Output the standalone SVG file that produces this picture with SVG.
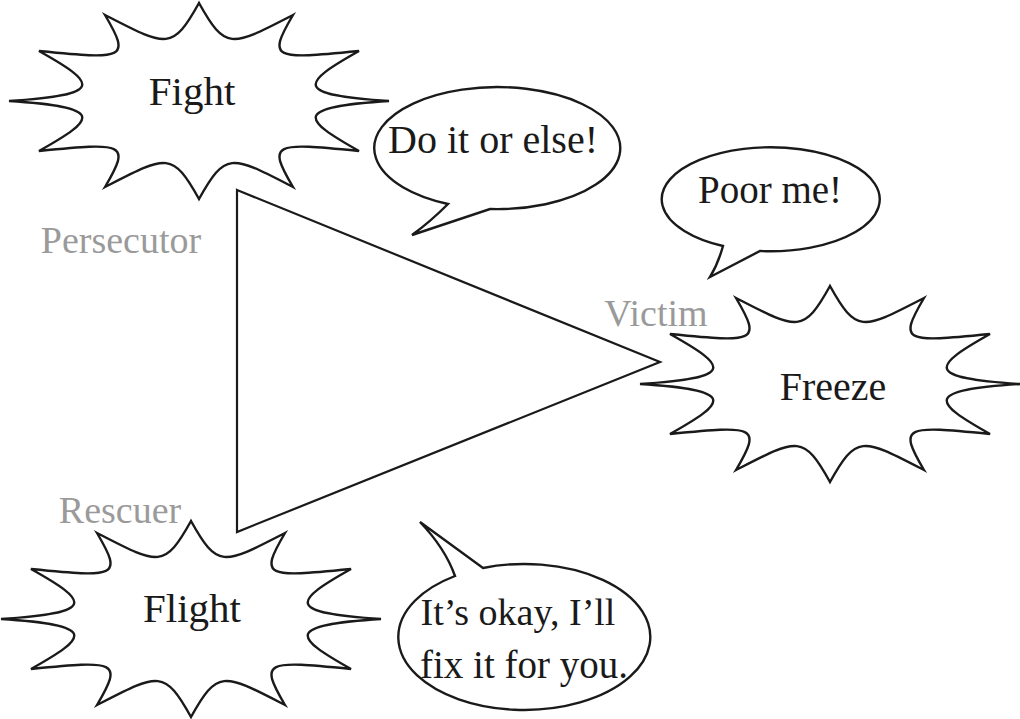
<svg xmlns="http://www.w3.org/2000/svg" width="1020" height="719" viewBox="0 0 1020 719">
<style>
.shape{fill:#fff;stroke:#1a1a1a;stroke-width:2.4;stroke-linejoin:miter}
.tri{fill:none;stroke:#1a1a1a;stroke-width:2.2}
text{font-family:'Liberation Serif','DejaVu Serif',serif}
.t{fill:#1a1a1a;text-anchor:middle}
.lbl{fill:#9a9a9a;text-anchor:middle;font-size:38px}
</style>
<defs>
<path id="burst" d="M0,-98 C26.8,-49.8 32.5,-54.3 94,-86 C67.6,-41.3 74.8,-41.6 160,-50 C102.4,-17.7 92.9,-6 190,0 C92.9,6 102.4,17.7 160,50 C74.8,41.6 67.6,41.3 94,86 C32.5,54.3 26.8,49.8 0,98 C-26.8,49.8 -32.5,54.3 -94,86 C-67.6,41.3 -74.8,41.6 -160,50 C-102.4,17.7 -92.9,6 -190,0 C-92.9,-6 -102.4,-17.7 -160,-50 C-74.8,-41.6 -67.6,-41.3 -94,-86 C-32.5,-54.3 -26.8,-49.8 0,-98 Z"/>
</defs>
<rect width="1020" height="719" fill="#fff"/>
<g id="connectors">
<polygon class="tri" points="237,190 660,362 237,532"/>
</g>
<g id="fight">
<use href="#burst" class="shape" transform="translate(199,101)"/>
<text class="t" x="192" y="105" font-size="41">Fight</text>
</g>
<g id="freeze">
<use href="#burst" class="shape" transform="translate(830,384)"/>
<text class="t" x="833" y="400" font-size="40">Freeze</text>
</g>
<g id="flight">
<use href="#burst" class="shape" transform="translate(191,619)"/>
<text class="t" x="192" y="622" font-size="41">Flight</text>
</g>
<g id="bubble-persecutor">
<path class="shape" d="M448,204 Q430,222 412,235 L490,209 A123,61 0 1 0 448,204 Z"/>
<text class="t" x="493" y="153" font-size="40">Do it or else!</text>
</g>
<g id="bubble-victim">
<path class="shape" d="M723,246 Q718,264 710,277 L760,251 A109,52 0 1 0 723,246 Z"/>
<text class="t" x="770" y="203" font-size="39">Poor me!</text>
</g>
<g id="bubble-rescuer">
<path class="shape" d="M455,576 Q445,548 420,522 L483,568 A126,73 0 1 1 455,576 Z"/>
<text class="t" x="518" y="625" font-size="38">It’s okay, I’ll</text>
<text class="t" x="524" y="678" font-size="39">fix it for you.</text>
</g>
<g id="labels">
<text class="lbl" x="121" y="253">Persecutor</text>
<text class="lbl" x="656" y="326">Victim</text>
<text class="lbl" x="120" y="523">Rescuer</text>
</g>
</svg>
